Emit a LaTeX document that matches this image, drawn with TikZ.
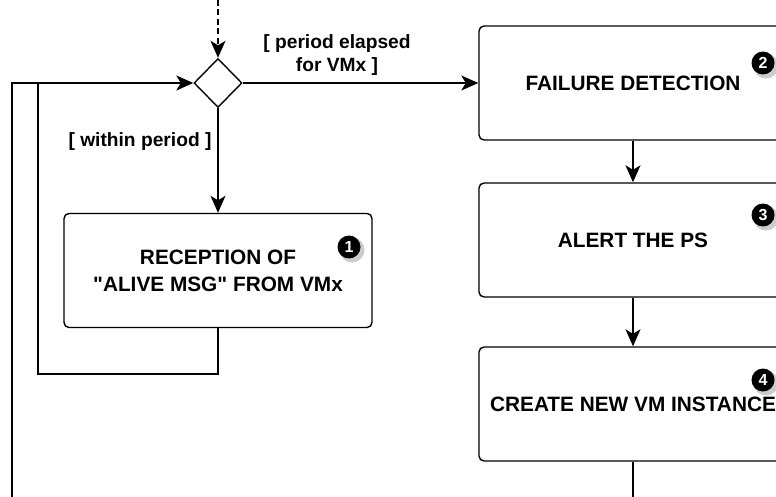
\documentclass[tikz,border=0pt]{standalone}
\usepackage{fontspec}
\setmainfont{Liberation Sans}
\newfontfamily\lsans{Liberation Sans}
\usetikzlibrary{shapes.geometric,arrows.meta}
\tikzset{
  every picture/.style={x=1pt,y=-1pt},
  line/.style={line width=1.4pt,line join=miter},
  arr/.style={line, -{Stealth[length=17pt,width=15pt,inset=4.5pt]}},
  dasharr/.style={arr, dash pattern=on 6pt off 3.5pt},
  stepbox/.style={draw,line width=1.4pt,rounded corners=5pt,minimum width=308pt,minimum height=114pt,inner sep=0pt,align=center,font=\lsans\bfseries\fontsize{20.8}{27}\selectfont},
  guard/.style={align=center,inner sep=0pt,font=\lsans\bfseries\fontsize{19.2}{23.5}\selectfont},
  badge/.style={circle,fill=black,text=white,minimum size=23pt,inner sep=0pt,font=\lsans\bfseries\fontsize{16}{16}\selectfont},
  badgeshadow/.style={circle,fill=black!40,opacity=0.5,minimum size=25pt,inner sep=0pt},
}
\begin{document}
\begin{tikzpicture}
\useasboundingbox (0,0) rectangle (776,497);
\clip (0,0) rectangle (776,497);
% decision
\node[draw,line width=1.4pt,diamond,minimum width=48pt,minimum height=49pt,inner sep=0pt] (dia) at (218,83) {};
% boxes
\node[stepbox] (b1) at (218,270.5) {RECEPTION OF\\"ALIVE MSG" FROM VMx};
\node[stepbox] (b2) at (633,83) {FAILURE DETECTION};
\node[stepbox] (b3) at (633,240) {ALERT THE PS};
\node[stepbox] (b4) at (633,404) {CREATE NEW VM INSTANCE};
% badges
\foreach \n/\x/\y in {1/349/247, 2/763/63, 3/763/215, 4/763/380}{
  \node[badgeshadow] (s\n) at (\x+3,\y+3) {};
  \node[badge] (n\n) at (\x,\y) {\n};
}
% guards
\node[guard] (g1) at (337,55) {[ period elapsed\\for VMx ]};
\node[guard] (g2) at (140,142) {[ within period ]};
% coordinates
\coordinate (top) at (218,0);
\coordinate (l1) at (218,374);
\coordinate (l2) at (38,374);
\coordinate (l3) at (38,83);
\coordinate (o1) at (12,497);
\coordinate (o2) at (12,83);
\coordinate (bot) at (633,497);
% connectors
\draw[dasharr] (top) -- (dia.north);
\draw[arr] (dia.east) -- (b2.west);
\draw[arr] (dia.south) -- (b1.north);
\draw[line] (o1) -- (o2) -- (l3);
\draw[arr] (b1.south) -- (l1) -- (l2) -- (l3) -- (dia.west);
\draw[arr] (b2.south) -- (b3.north);
\draw[arr] (b3.south) -- (b4.north);
\draw[line] (b4.south) -- (bot);
\end{tikzpicture}
\end{document}
